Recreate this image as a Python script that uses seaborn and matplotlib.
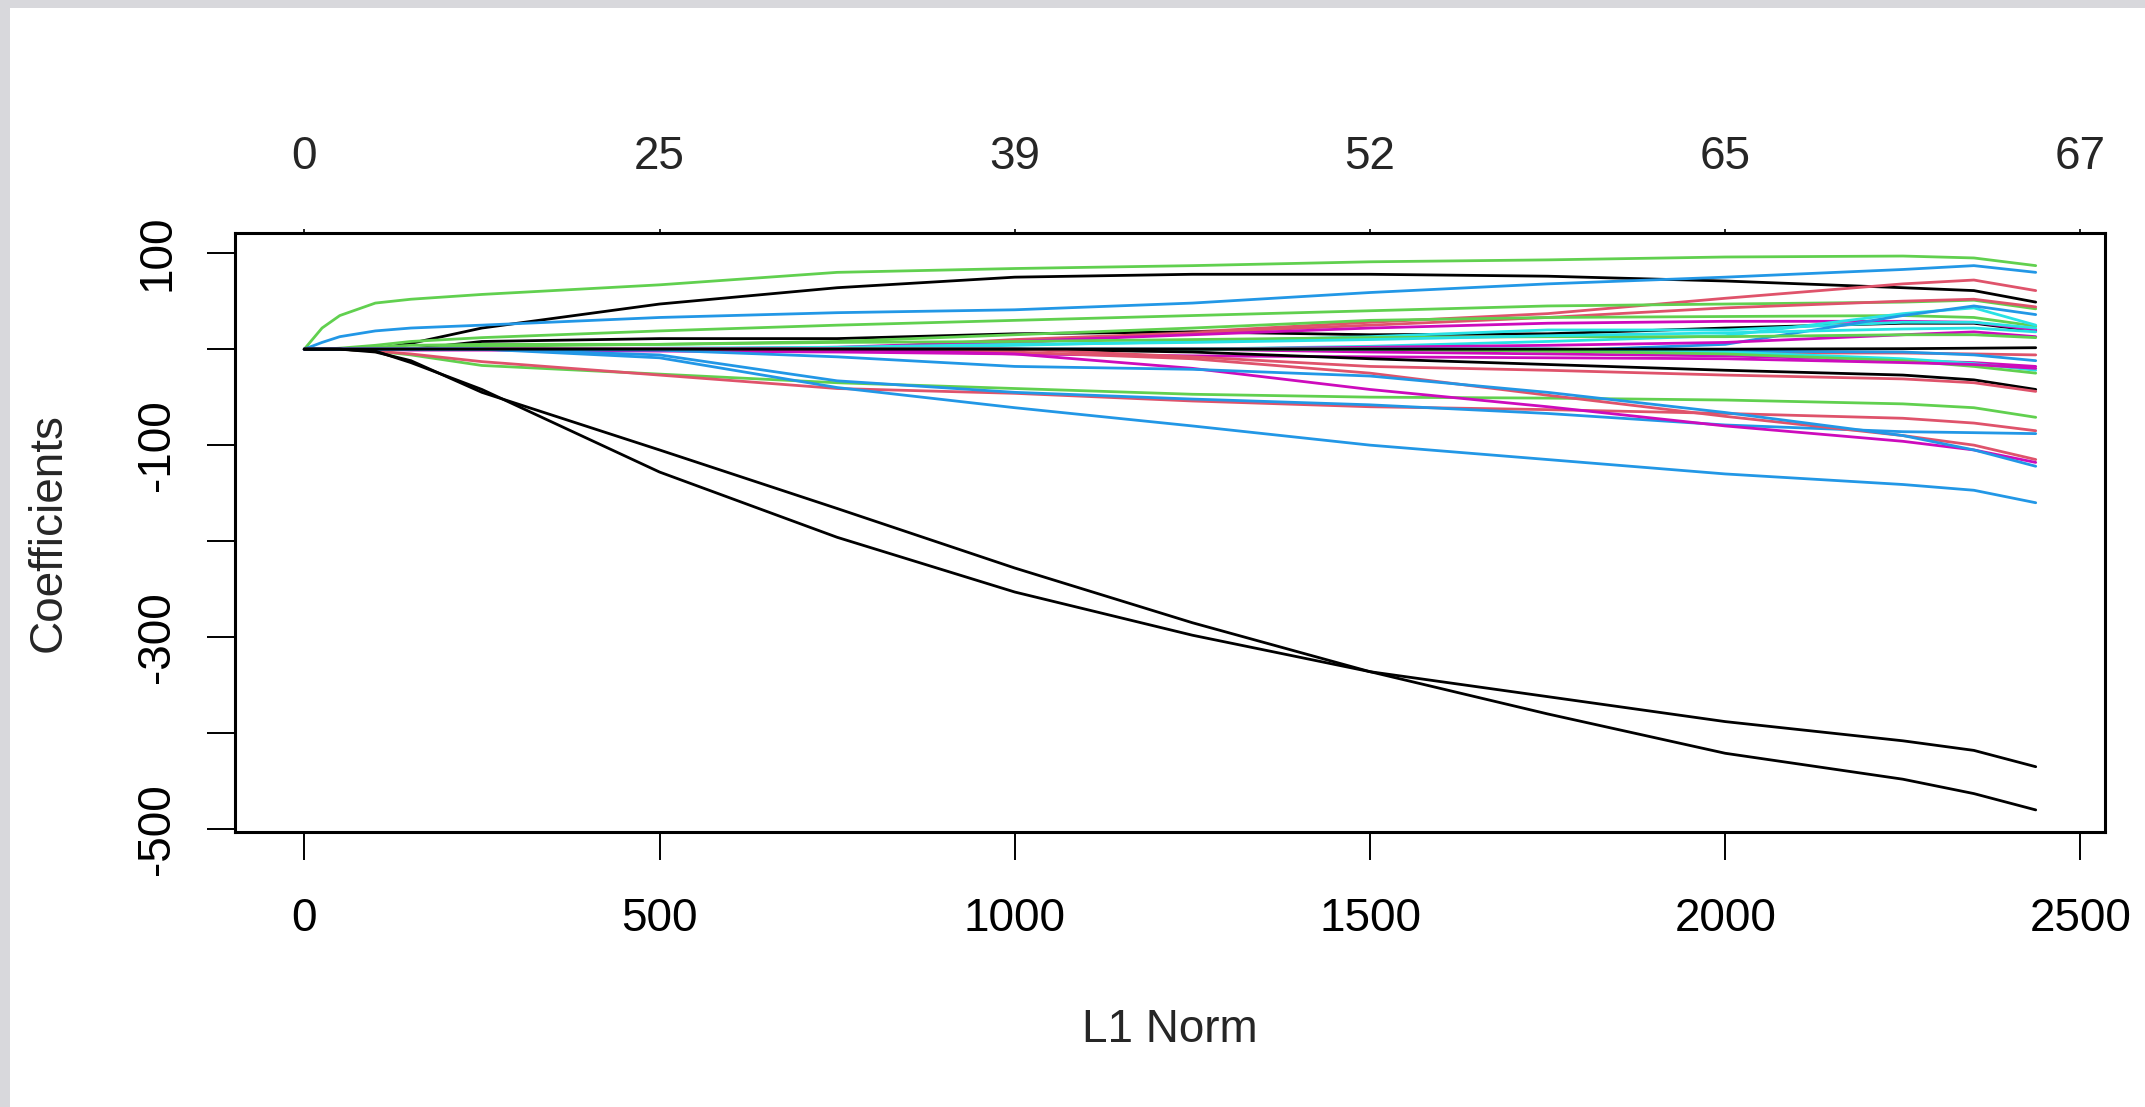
import pandas as pd
import matplotlib
matplotlib.use('Agg')
import matplotlib.pyplot as plt
from matplotlib.patches import Rectangle
import seaborn as sns

# glmnet-style coefficient paths at these L1 norm knots
l1_norm = [0, 25, 50, 100, 150, 250, 500, 750, 1000, 1250, 1500, 1750, 2000, 2250, 2350, 2437]

green_top = [0, 22, 35, 48, 52, 57, 67, 80, 84, 87, 91, 93, 96, 97, 95, 87]
black_up = [0, 0, 0, 0, 6, 22, 47, 64, 75, 78, 78, 76, 71, 64, 61, 49]
blue_up = [0, 7, 13, 19, 22, 25, 33, 38, 41, 48, 59, 68, 75, 83, 87, 80]
red_up = [0, 0, 0, 0, 0, 0, 0, 0, 6, 18, 28, 37, 53, 68, 72, 61]
green_2 = [0, 0, 1, 4, 8, 12, 19, 25, 30, 35, 40, 45, 47, 49, 51, 42]
black_mid = [0, 0, 0, 0, 0, 8, 11, 11, 16, 18, 15, 16, 22, 27, 27, 19]
red_m = [0, 0, 0, 0, 0, 0, 0, 0, 10, 17, 25, 33, 43, 50, 52, 44]
green_j = [0, 0, 0, 0, 1, 3, 5, 8, 15, 22, 30, 33, 34, 35, 33, 24]
magenta_l = [0, 0, 0, 0, 0, 0, 0, 2, 8, 15, 22, 27, 29, 29, 28, 20]
cyan_i = [0, 0, 0, 0, 0, 0, 0, 0, 4, 8, 13, 20, 20, 28, 28, 22]
cyan_g = [0, 0, 0, 0, 0, 0, 0, 0, 0, 0, 3, 8, 14, 37, 43, 25]
blue_h = [0, 0, 0, 0, 0, 0, 0, 0, 0, 0, 0, -2, 5, 35, 45, 36]
magenta_k = [0, 0, 0, 0, 0, 0, 0, 0, 0, 0, 2, 4, 7, 15, 18, 13]
green_w = [0, 0, 0, 2, 4, 5, 5, 7, 8, 10, 12, 13, 13, 15, 15, 12]
cyan_v = [0, 0, 0, 0, 0, 0, 1, 2, 5, 7, 10, 14, 17, 21, 22, 18]
red_n = [0, 0, 0, 0, 0, 0, 0, 0, 0, 0, 0, -2, -4, -4, -5, -6]
blue_o = [0, 0, 0, 0, 0, 0, 0, 0, 0, 0, 0, 0, -2, -3, -6, -12]
magenta_p = [0, 0, 0, 0, 0, 0, 0, 0, 0, 0, -3, -5, -7, -12, -14, -18]
cyan_q = [0, 0, 0, 0, 0, 0, 0, 0, 0, 0, 0, 0, -3, -10, -15, -22]
green_r = [0, 0, 0, 0, 0, 0, 0, 0, 0, 0, 0, -2, -5, -12, -18, -25]
magenta_u = [0, 0, 0, 0, -1, -1, -2, -3, -5, -7, -8, -9, -10, -14, -16, -20]
black_low = [0, 0, 0, 0, 0, 0, 0, 0, 0, -3, -10, -16, -22, -27, -32, -42]
red_a = [0, 0, 0, 0, 0, 0, 0, 0, 0, -8, -18, -22, -27, -31, -35, -44]
green_b = [0, 0, 0, -2, -6, -17, -26, -35, -41, -47, -50, -51, -53, -57, -61, -71]
red_b = [0, 0, 0, -2, -5, -13, -27, -41, -46, -54, -60, -63, -67, -72, -77, -85]
blue_d = [0, 0, 0, 0, 0, 0, -6, -33, -45, -52, -58, -67, -79, -86, -87, -88]
red_f = [0, 0, 0, 0, 0, 0, 0, 0, -3, -10, -25, -48, -70, -90, -100, -115]
magenta_e = [0, 0, 0, 0, 0, 0, 0, 0, -5, -20, -42, -60, -80, -96, -105, -118]
blue_c = [0, 0, 0, 0, 0, 0, -1, -8, -18, -21, -28, -45, -66, -90, -105, -122]
blue_steep = [0, 0, 0, 0, 0, 0, -9, -40, -61, -80, -100, -115, -130, -141, -147, -160]
black_p1 = [0, 0, 0, -3, -12, -45, -105, -166, -228, -285, -336, -380, -421, -448, -463, -480]
black_p2 = [0, 0, 0, -2, -14, -42, -128, -196, -253, -298, -336, -362, -388, -408, -418, -435]
black_s = [0, 0, 0, 0, 0, 0, 0, 0, 0, 0, 0, 0, 0, 0.5, 1, 1.5]

top_ticks = [0, 500, 1000, 1500, 2000, 2500]
top_labels = ['0', '25', '39', '52', '65', '67']
x_ticks = [0, 500, 1000, 1500, 2000, 2500]
y_ticks = [100, 0, -100, -200, -300, -400, -500]
y_labels = ['100', '', '-100', '', '-300', '', '-500']

# R default palette 1:6
pal6 = {'black': '#000000', 'red': '#DF536B', 'green': '#61D04F',
        'blue': '#2297E6', 'cyan': '#28E2E5', 'magenta': '#CD0BBC'}

paths = [
    ('green_top', 'green', green_top), ('black_up', 'black', black_up),
    ('blue_up', 'blue', blue_up), ('red_up', 'red', red_up),
    ('green_2', 'green', green_2), ('black_mid', 'black', black_mid),
    ('red_m', 'red', red_m), ('green_j', 'green', green_j),
    ('magenta_l', 'magenta', magenta_l), ('cyan_i', 'cyan', cyan_i),
    ('cyan_g', 'cyan', cyan_g), ('blue_h', 'blue', blue_h),
    ('magenta_k', 'magenta', magenta_k), ('green_w', 'green', green_w),
    ('cyan_v', 'cyan', cyan_v), ('red_n', 'red', red_n),
    ('blue_o', 'blue', blue_o), ('magenta_p', 'magenta', magenta_p),
    ('cyan_q', 'cyan', cyan_q), ('green_r', 'green', green_r),
    ('magenta_u', 'magenta', magenta_u), ('black_low', 'black', black_low),
    ('red_a', 'red', red_a), ('green_b', 'green', green_b),
    ('red_b', 'red', red_b), ('blue_d', 'blue', blue_d),
    ('red_f', 'red', red_f), ('magenta_e', 'magenta', magenta_e),
    ('blue_c', 'blue', blue_c), ('blue_steep', 'blue', blue_steep),
    ('black_p1', 'black', black_p1), ('black_p2', 'black', black_p2),
    ('black_s', 'black', black_s),
]

frames = []
for name, col, vals in paths:
    frames.append(pd.DataFrame({'l1_norm': l1_norm, 'coef': vals, 'path': name}))
df = pd.concat(frames, ignore_index=True)
palette = {name: pal6[col] for name, col, _ in paths}
order = [name for name, _, _ in paths]

sns.set_style('white')
plt.rcParams['font.family'] = ['Liberation Sans', 'DejaVu Sans']
fs = 33

W, H = 2145, 1107
fig = plt.figure(figsize=(W / 100, H / 100), dpi=100)
fig.patch.set_facecolor('#d8d8dc')
# white page inside the grey screenshot border
fig.patches.append(Rectangle((10 / W, 0), 1, 1 - 8 / H, transform=fig.transFigure,
                             facecolor='white', edgecolor='none', zorder=-10))

ax = fig.add_axes([235 / W, 1 - 832 / H, 1870 / W, 599 / H])
ax.set_zorder(5)
ax.patch.set_alpha(0)
sns.lineplot(data=df, x='l1_norm', y='coef', hue='path', hue_order=order,
             palette=palette, estimator=None, sort=False, legend=False,
             linewidth=2.0, ax=ax)

ax.set_xlim(-97.5, 2534.5)
ax.set_ylim(-503, 121)
for sp in ax.spines.values():
    sp.set_visible(True)
    sp.set_color('black')
    sp.set_linewidth(2.2)

ax.set_xticks(x_ticks, labels=[str(t) for t in x_ticks])
ax.set_yticks(y_ticks, labels=y_labels)
ax.tick_params(axis='x', direction='out', length=20, width=1.4, pad=27,
               labelsize=fs, colors='black', bottom=True)
ax.tick_params(axis='y', direction='out', length=20, width=1.4, pad=20,
               labelsize=fs, colors='black', left=True)
for lab in ax.get_yticklabels():
    lab.set_rotation(90)
    lab.set_va('center')

top = ax.secondary_xaxis('top')
top.set_xticks(top_ticks, labels=top_labels)
top.tick_params(direction='out', length=3, width=1.4, pad=36, labelsize=fs)
top.spines['top'].set_visible(False)

ax.set_xlabel('L1 Norm', fontsize=fs)
ax.set_ylabel('Coefficients', fontsize=fs)
ax.xaxis.set_label_coords(0.5, (832 - 1030) / 599)
ax.xaxis.label.set_va('center')
ax.yaxis.set_label_coords((49 - 235) / 1870, 0.5)
ax.yaxis.label.set_va('center')

fig.savefig('out.png', dpi=100, facecolor=fig.get_facecolor())
